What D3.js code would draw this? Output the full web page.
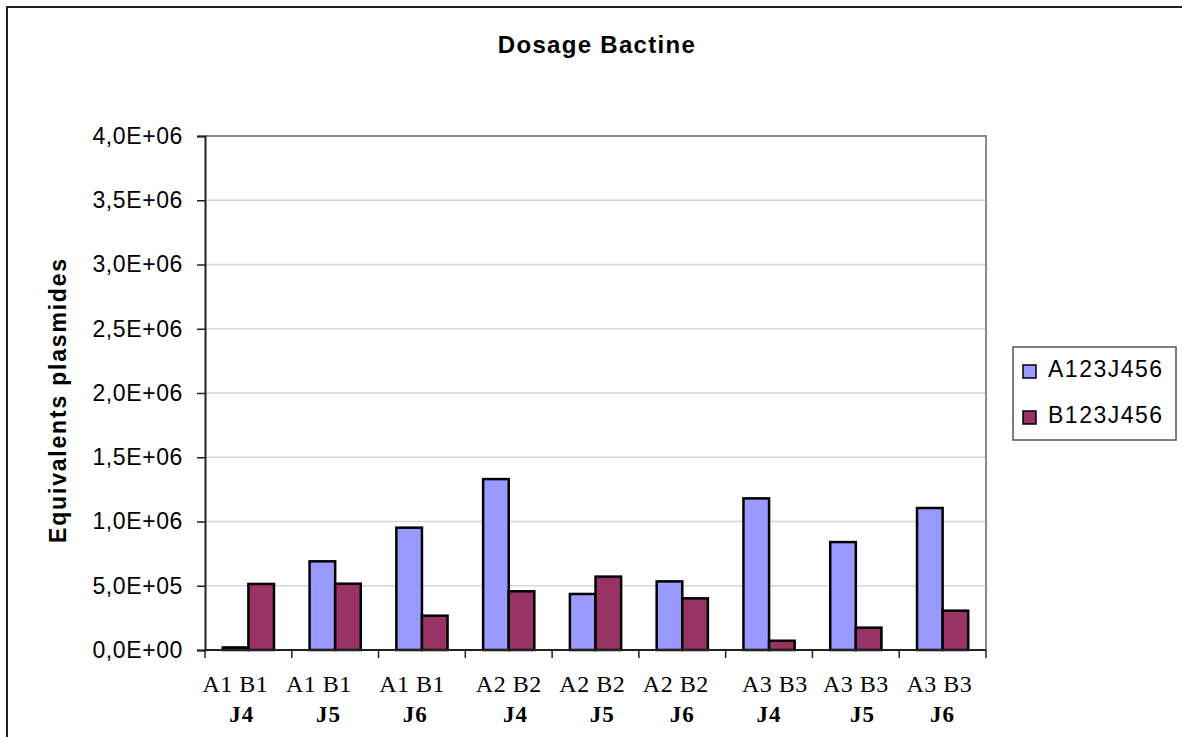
<!DOCTYPE html>
<html>
<head>
<meta charset="utf-8">
<script src="https://cdn.jsdelivr.net/npm/d3@7"></script>
<style>
  body { margin: 0; background: #fff; }
  text { white-space: pre; }
</style>
</head>
<body>
<script>
// Width and height
var w = 1182;
var h = 737;

// data
var groups = ["g1", "g2", "g3", "g4", "g5", "g6", "g7", "g8", "g9"];
var topLabels = ["A1 B1    ", "A1 B1     ", "A1 B1   ", "A2 B2", "A2 B2 ", "A2 B2  ", "  A3 B3", "A3 B3", "A3 B3 "];
var dayLabels = ["J4  ", "J5  ", "J6  ", "  J4", "  J5", "J6", "J4", "  J5", "J6"];
var seriesNames = ["A123J456", "B123J456"];
var valuesA = [20000, 690000, 952000, 1330000, 436000, 534000, 1180000, 840000, 1105000];
var valuesB = [514000, 516000, 267000, 457000, 571000, 402000, 72000, 174000, 306000];
var yTicks = [0, 500000, 1000000, 1500000, 2000000, 2500000, 3000000, 3500000, 4000000];
var colors = ["#9999FF", "#993366"];

var plot = { left: 205, right: 986, top: 136, bottom: 650 };

var svg = d3.select("body").append("svg").attr("width", w).attr("height", h);

// chart area + border
svg.append("rect")
  .attr("x", 7).attr("y", 7)
  .attr("width", 1300).attr("height", 900)
  .attr("fill", "white")
  .attr("stroke", "#222")
  .attr("stroke-width", 2);

var x = d3.scaleBand()
  .domain(groups)
  .range([plot.left, plot.right])
  .paddingInner(0.41)
  .paddingOuter(0.205);

var xs = d3.scaleBand().domain([0, 1]).range([0, x.bandwidth()]);

var y = d3.scaleLinear().domain([0, 4000000]).range([plot.bottom, plot.top]);

function sci(v) {
  if (v === 0) return "0,0E+00";
  var e = Math.floor(Math.log10(v));
  var m = v / Math.pow(10, e);
  return m.toFixed(1).replace(".", ",") + "E+" + (e < 10 ? "0" + e : e);
}

// gridlines
svg.selectAll(".grid")
  .data(yTicks.slice(1, -1))
  .enter()
  .append("line")
  .attr("x1", plot.left).attr("x2", plot.right)
  .attr("y1", d => y(d)).attr("y2", d => y(d))
  .style("stroke", "#d6d6d6")
  .style("stroke-width", 1.5);

// plot area border (top and right)
svg.append("path")
  .attr("d", "M" + plot.left + "," + y(4000000) + "H" + plot.right + "V" + plot.bottom)
  .style("fill", "none")
  .style("stroke", "#8a8a8a")
  .style("stroke-width", 2);

// bars
var series = [valuesA, valuesB];
series.forEach(function (vals, si) {
  svg.selectAll(".bar" + si)
    .data(vals)
    .enter()
    .append("rect")
    .attr("x", (d, i) => x(groups[i]) + xs(si))
    .attr("y", d => y(d))
    .attr("width", xs.bandwidth())
    .attr("height", d => y(0) - y(d))
    .style("fill", colors[si])
    .style("stroke", "black")
    .style("stroke-width", 2.5);
});

// y axis
var yAxis = svg.append("g")
  .attr("transform", "translate(" + plot.left + ",0)")
  .call(d3.axisLeft(y).tickValues(yTicks).tickFormat(sci).tickSize(8).tickPadding(14));
yAxis.select(".domain").style("stroke", "#222").style("stroke-width", 2);
yAxis.selectAll(".tick line").style("stroke", "#222").style("stroke-width", 1.5);
yAxis.selectAll("text")
  .style("font-family", "Liberation Sans, Arial, sans-serif")
  .style("font-size", "23px")
  .style("letter-spacing", "0.6px")
  .style("fill", "black");

// x axis line + tick marks at group boundaries
svg.append("line")
  .attr("x1", plot.left).attr("x2", plot.right)
  .attr("y1", y(0)).attr("y2", y(0))
  .style("stroke", "#222").style("stroke-width", 2);

var bounds = groups.map(g => x(g) - x.step() * x.paddingInner() / 2);
bounds.push(plot.right);
svg.selectAll(".xtick")
  .data(bounds)
  .enter()
  .append("line")
  .attr("x1", d => d).attr("x2", d => d)
  .attr("y1", y(0)).attr("y2", y(0) + 8)
  .style("stroke", "#222").style("stroke-width", 1.5);

// x labels
svg.selectAll(".xlab")
  .data(topLabels)
  .enter()
  .append("text")
  .attr("x", (d, i) => x(groups[i]) + x.bandwidth() / 2)
  .attr("y", 692)
  .attr("text-anchor", "middle")
  .style("font-family", "Liberation Serif, Times New Roman, serif")
  .style("font-size", "24px")
  .style("letter-spacing", "0.5px")
  .text(d => d);

svg.selectAll(".jlab")
  .data(dayLabels)
  .enter()
  .append("text")
  .attr("x", (d, i) => x(groups[i]) + x.bandwidth() / 2)
  .attr("y", 722)
  .attr("text-anchor", "middle")
  .style("font-family", "Liberation Serif, Times New Roman, serif")
  .style("font-size", "23px")
  .style("font-weight", "bold")
  .style("letter-spacing", "1px")
  .text(d => d);

// title
svg.append("text")
  .attr("x", 597).attr("y", 53)
  .attr("text-anchor", "middle")
  .style("font-family", "Liberation Sans, Arial, sans-serif")
  .style("font-size", "24px")
  .style("font-weight", "bold")
  .style("letter-spacing", "1.3px")
  .text("Dosage Bactine");

// y axis title
svg.append("text")
  .attr("transform", "translate(66," + ((plot.top + plot.bottom) / 2 + 7) + ") rotate(-90)")
  .attr("text-anchor", "middle")
  .style("font-family", "Liberation Sans, Arial, sans-serif")
  .style("font-size", "23px")
  .style("font-weight", "bold")
  .style("letter-spacing", "1.8px")
  .text("Equivalents plasmides");

// legend
var legend = svg.append("g").attr("transform", "translate(1013,347)");
legend.append("rect")
  .attr("width", 163).attr("height", 93)
  .style("fill", "white")
  .style("stroke", "#555")
  .style("stroke-width", 1.5);

var items = legend.selectAll(".item")
  .data(seriesNames)
  .enter()
  .append("g")
  .attr("transform", (d, i) => "translate(0," + (30 + i * 46) + ")");
items.append("rect")
  .attr("x", 10).attr("y", -12)
  .attr("width", 13).attr("height", 13)
  .style("fill", (d, i) => colors[i])
  .style("stroke", "black")
  .style("stroke-width", 1.5);
items.append("text")
  .attr("x", 35).attr("y", 0)
  .style("font-family", "Liberation Sans, Arial, sans-serif")
  .style("font-size", "23px")
  .style("letter-spacing", "1.5px")
  .text(d => d);
</script>
</body>
</html>
